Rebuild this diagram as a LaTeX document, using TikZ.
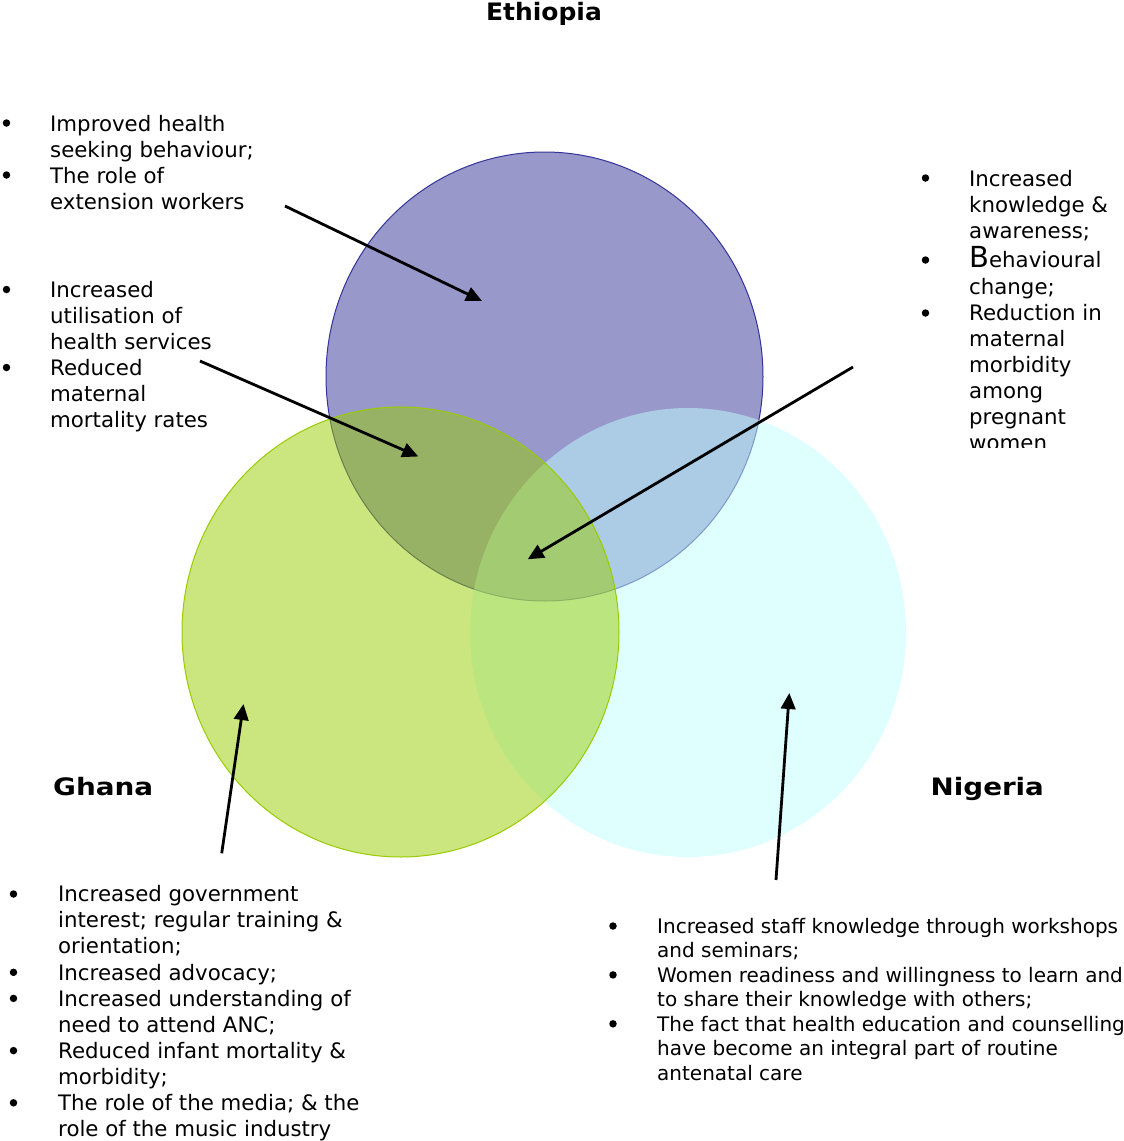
\documentclass[tikz,border=0pt]{standalone}
\usepackage{fontspec}
\usepackage{graphicx}
\setmainfont{DejaVu Sans}
\usetikzlibrary{arrows.meta,shapes.geometric}

\definecolor{ethblue}{RGB}{51,51,153}
\definecolor{ghgreen}{RGB}{153,204,0}
\definecolor{ngcyan}{RGB}{193,255,255}

% wide bold heading face
\newcommand{\widetitle}[2]{\scalebox{#1}[1]{#2}}

\tikzset{
  country/.style={ellipse, inner sep=0pt, outer sep=0pt, fill opacity=0.5},
  title/.style={font=\fontsize{24}{29}\selectfont\bfseries, inner sep=0pt, anchor=base west},
  body/.style={font=\fontsize{21.3}{26}\selectfont, inner sep=0pt, anchor=base west},
  bodysmall/.style={font=\fontsize{20}{24.5}\selectfont, inner sep=0pt, anchor=base west},
  dot/.style={circle, fill=black, inner sep=0pt, minimum size=7.5pt},
  pointer/.style={line width=2.8pt, -{Triangle[length=16pt,width=14.5pt]}}
}

\begin{document}
\begin{tikzpicture}[x=1pt, y=-1pt]
\useasboundingbox[fill=white] (0,0) rectangle (1124,1141);

% --- the three overlapping country circles ---
\node[country, fill=ethblue, draw=ethblue, line width=1pt,
      minimum width=437pt, minimum height=449pt] (eth) at (544.5,376.5) {};
\node[country, fill=ngcyan,
      minimum width=436pt, minimum height=449pt] (nga) at (688,632.5) {};
\node[country, fill=ghgreen, draw=ghgreen, line width=1pt,
      minimum width=437pt, minimum height=450pt] (gha) at (400.5,632) {};

% --- country titles ---
\node[title, anchor=base] (t-eth) at (544,20.7) {\widetitle{1.04}{Ethiopia}};
\node[title] (t-gha) at (53,795) {\widetitle{1.16}{Ghana}};
\node[title] (t-nga) at (930.5,795) {\widetitle{1.155}{Nigeria}};

% --- Ethiopia only ---
\foreach \t [count=\i from 0] in {Improved health, seeking behaviour;, The role of, extension workers}
  \node[body] (ea-\i) at (50,{131.5+26*\i}) {\t};
\node[dot] (ea-b0) at (6.5,123) {};
\node[dot] (ea-b1) at (6.5,175) {};

% --- Ethiopia and Ghana ---
\foreach \t [count=\i from 0] in {Increased, utilisation of, health services, Reduced, maternal, mortality rates}
  \node[body] (eg-\i) at (50,{297+26*\i}) {\t};
\node[dot] (eg-b0) at (6.5,289.5) {};
\node[dot] (eg-b1) at (6.5,367.5) {};

% --- all three countries (list cut off at its frame) ---
\begin{scope}
  \clip (900,150) rectangle (1124,447);
  \node[body] (ab-0) at (969,186) {Increased};
  \node[body] (ab-1) at (969,212) {knowledge \&};
  \node[body] (ab-2) at (969,238) {awareness;};
  \node[body] (ab-3) at (969,267.5) {{\fontsize{29}{30}\selectfont B}ehavioural};
  \node[body] (ab-4) at (969,294) {change;};
  \foreach \t [count=\i from 5] in {Reduction in, maternal, morbidity, among, pregnant, women}
    \node[body] (ab-\i) at (969,{320+26*(\i-5)}) {\t};
\end{scope}
\node[dot] (ab-b0) at (925.5,178) {};
\node[dot] (ab-b1) at (925.5,260) {};
\node[dot] (ab-b2) at (925.5,313) {};

% --- Ghana ---
\foreach \t [count=\i from 0] in {Increased government, interest; regular training \&, orientation;,
    Increased advocacy;, Increased understanding of, need to attend ANC;,
    Reduced infant mortality \&, morbidity;, The role of the media; \& the, role of the music industry}
  \node[body] (gh-\i) at (58,{901.7+26.1*\i}) {\t};
\foreach \k/\j in {0/0, 1/3, 2/4, 3/6, 4/8}
  \node[dot] (gh-b\k) at (13.5,{894+26.1*\j}) {};

% --- Nigeria ---
\foreach \t [count=\i from 0] in {Increased staff knowledge through workshops, and seminars;,
    Women readiness and willingness to learn and, to share their knowledge with others;,
    The fact that health education and counselling, have become an integral part of routine,
    antenatal care}
  \node[bodysmall] (ng-\i) at (657,{933.3+24.45*\i}) {\t};
\foreach \k/\j in {0/0, 1/2, 2/4}
  \node[dot] (ng-b\k) at (613,{926+24.45*\j}) {};

% --- pointers from the lists into the circles ---
\coordinate (p1s) at (285,206);   \coordinate (p1e) at (482,301);
\coordinate (p2s) at (200,361);   \coordinate (p2e) at (418.3,456.5);
\coordinate (p3s) at (853,367);   \coordinate (p3e) at (527.7,559.3);
\coordinate (p4s) at (221.7,853.3); \coordinate (p4e) at (243.5,704);
\coordinate (p5s) at (776,880);   \coordinate (p5e) at (789.3,693);
\draw[pointer] (p1s) -- (p1e);
\draw[pointer] (p2s) -- (p2e);
\draw[pointer] (p3s) -- (p3e);
\draw[pointer] (p4s) -- (p4e);
\draw[pointer] (p5s) -- (p5e);
\end{tikzpicture}
\end{document}
